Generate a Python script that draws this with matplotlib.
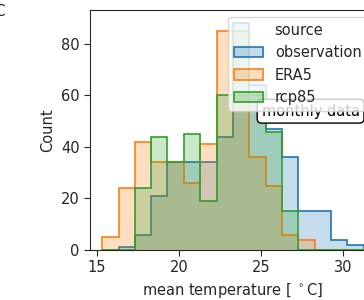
import numpy as np
import matplotlib
matplotlib.use("Agg")
import matplotlib.pyplot as plt
from matplotlib.patches import Patch

# common bin edges (mean temperature, deg C)
bin_edges = [15.31, 16.31, 17.30, 18.30, 19.29, 20.29, 21.29, 22.28, 23.28,
             24.27, 25.27, 26.27, 27.26, 28.26, 29.25, 30.25, 31.25]

# counts per bin
observation = [0, 1, 6, 21, 34, 34, 34, 44, 88, 64, 47, 36, 15, 15, 4, 2]
era5 = [5, 24, 42, 34, 34, 26, 41, 85, 60, 36, 25, 6, 4, 0, 0, 0]
rcp85 = [0, 0, 24, 44, 34, 45, 19, 60, 85, 60, 46, 15, 0, 0, 0, 0]

sources = ["observation", "ERA5", "rcp85"]
colors = ["#1f77b4", "#ff7f0e", "#2ca02c"]
series = [observation, era5, rcp85]

x_ticks = [15, 20, 25, 30]
y_ticks = [0, 20, 40, 60, 80]

dark = "0.15"
plt.rcParams["font.family"] = "DejaVu Sans"
plt.rcParams["font.size"] = 10.5

fig = plt.figure(figsize=(3.64, 3.0), dpi=100)
# axes run past the right edge of the figure, as in the cropped original
ax = fig.add_axes([90 / 364, 50 / 300, 285 / 364, 240 / 300])

for vals, col in zip(series, colors):
    ax.stairs(vals, bin_edges, fill=True, color=col, alpha=0.25, lw=0)
    ax.stairs(vals, bin_edges, color=col, lw=1.2)

ax.set_xlim(14.57, 31.94)
ax.set_ylim(0, 93.2)
ax.set_xticks(x_ticks)
ax.set_yticks(y_ticks)
ax.set_xlabel(r"mean temperature [ $^\circ$C]", color=dark)
ax.set_ylabel("Count", color=dark)
ax.tick_params(colors=dark, length=4)
for s in ax.spines.values():
    s.set_color(dark)

ax.text(0.602, 0.547, "monthly data", transform=ax.transAxes,
        ha="left", va="bottom", color="black",
        bbox=dict(boxstyle="round,pad=0.3", fc="white", ec="black"))

handles = [Patch(facecolor=matplotlib.colors.to_rgba(c, 0.25), edgecolor=c, lw=1.2)
           for c in colors]
leg = ax.legend(handles, sources, title="source", loc="upper right")
leg.get_title().set_color(dark)
for t in leg.get_texts():
    t.set_color(dark)

fig.text(5 / 364, 1 - 11 / 300, "C", ha="right", va="center", fontsize=11, color=dark)

fig.savefig("out.png", dpi=100)
